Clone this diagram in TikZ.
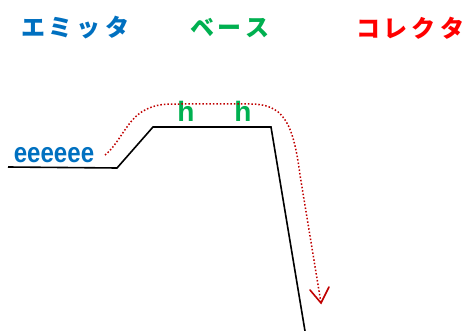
\documentclass[tikz,border=0pt]{standalone}
\usepackage{fontspec}
\setmainfont{Liberation Sans}
\newfontfamily\cjk{Noto Sans CJK JP}
\usetikzlibrary{arrows.meta}
\definecolor{eblue}{HTML}{0070C0}
\definecolor{bgreen}{HTML}{00B050}
\definecolor{cred}{HTML}{FF0000}
\definecolor{dred}{HTML}{C00000}
\tikzset{
  region/.style={font=\cjk\bfseries\fontsize{24}{24}\selectfont, inner sep=0pt, anchor=center},
  carrier/.style={font=\bfseries\fontsize{28}{28}\selectfont, inner sep=0pt},
  band/.style={line width=1.6pt, black, line join=miter},
  flow/.style={line width=1.5pt, dred, dash pattern=on 1.5pt off 2pt, line cap=butt},
}
\begin{document}
\begin{tikzpicture}[x=1pt,y=-1pt]
\useasboundingbox (0,0) rectangle (465,331);
\node[region, text=eblue] (em) at (75,28) {エ\,ミ\,ッ\,タ};
\node[region, text=bgreen] (ba) at (230,28) {ベ\,ー\,ス};
\node[region, text=cred] (co) at (410,28) {コ\,レ\,ク\,タ};
\node[carrier, text=eblue, xscale=0.86] (el) at (54,155) {eeeeee};
\node[carrier, text=bgreen] (h1) at (186,111) {h};
\node[carrier, text=bgreen] (h2) at (243,111) {h};
\coordinate (b0) at (8,167);
\coordinate (b1) at (117,168);
\coordinate (b2) at (153,127);
\coordinate (b3) at (271,127);
\coordinate (b4) at (305,331);
\draw[band] (b0) -- (b1) -- (b2) -- (b3) -- (b4);
\coordinate (f0) at (105,155);
\coordinate (f1) at (145,110);
\coordinate (f2) at (180,104);
\coordinate (f3) at (250,104);
\coordinate (f4) at (300,175);
\coordinate (f5) at (321,303);
\draw[flow] (f0) .. controls (120,143) and (127,119) .. (f1)
  .. controls (156,104) and (166,104) .. (f2) -- (f3)
  .. controls (282,104) and (293,120) .. (f4) -- (f5);
\draw[line width=1.6pt, dred, line cap=round] (310,290) -- (f5) -- (329,287);
\end{tikzpicture}
\end{document}
